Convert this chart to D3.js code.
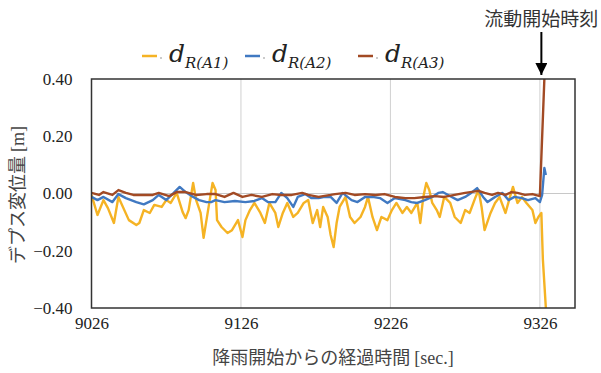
<!DOCTYPE html>
<html>
<head>
<meta charset="utf-8">
<script src="https://cdn.jsdelivr.net/npm/d3@7"></script>
<style>
  body { margin: 0; background: #fff; }
  svg { display: block; }
</style>
</head>
<body>
<div id="chart"></div>
<script>
// time [sec] / depth displacement [m]
const tA1 = [9026, 9030, 9034, 9037, 9041, 9044, 9051, 9056, 9058, 9061, 9065, 9068, 9073, 9076, 9079, 9083, 9087, 9089, 9091, 9094, 9096, 9099, 9101, 9104, 9107, 9109, 9110, 9113, 9117, 9120, 9124, 9127, 9129, 9132, 9135, 9139, 9142, 9145, 9149, 9151, 9154, 9157, 9161, 9164, 9168, 9171, 9174, 9177, 9179, 9181, 9184, 9186, 9188, 9190, 9192, 9196, 9199, 9202, 9206, 9209, 9211, 9214, 9217, 9220, 9224, 9227, 9230, 9234, 9237, 9240, 9244, 9246, 9248, 9250, 9252, 9254, 9257, 9259, 9262, 9266, 9269, 9273, 9276, 9279, 9283, 9285, 9287, 9289, 9293, 9296, 9299, 9303, 9306, 9308, 9311, 9314, 9317, 9321, 9323, 9325, 9327, 9328, 9330];
const vA1 = [-0.005, -0.075, -0.023, -0.051, -0.103, -0.012, -0.093, -0.110, -0.103, -0.058, -0.068, -0.040, -0.047, -0.023, -0.033, 0.002, -0.065, -0.086, -0.058, 0.037, -0.023, -0.068, -0.155, -0.058, 0.037, 0.012, -0.093, -0.117, -0.138, -0.128, -0.093, -0.152, -0.093, -0.058, -0.033, -0.068, -0.103, -0.033, -0.068, -0.117, -0.068, -0.033, -0.082, -0.068, -0.033, -0.023, -0.103, -0.058, -0.117, -0.047, -0.082, -0.145, -0.187, -0.103, -0.047, -0.012, -0.082, -0.103, -0.082, -0.047, -0.012, -0.082, -0.128, -0.082, -0.093, -0.058, -0.033, -0.068, -0.047, -0.068, -0.033, -0.103, -0.012, 0.037, 0.012, -0.033, -0.058, -0.082, -0.012, -0.033, -0.082, -0.103, -0.058, -0.068, -0.012, 0.012, -0.047, -0.128, -0.068, -0.033, -0.012, -0.068, -0.012, 0.023, -0.033, -0.012, -0.033, -0.058, -0.103, -0.082, -0.068, -0.230, -0.400];

const tA2 = [9026, 9030, 9034, 9040, 9044, 9049, 9056, 9061, 9067, 9071, 9076, 9081, 9085, 9089, 9094, 9098, 9103, 9106, 9109, 9115, 9122, 9129, 9135, 9140, 9144, 9149, 9153, 9157, 9161, 9164, 9169, 9173, 9178, 9182, 9186, 9190, 9194, 9200, 9204, 9209, 9214, 9219, 9224, 9229, 9236, 9240, 9244, 9249, 9254, 9258, 9261, 9267, 9271, 9276, 9280, 9284, 9288, 9291, 9296, 9301, 9305, 9309, 9314, 9318, 9323, 9326, 9327.5, 9329, 9330];
const vA2 = [-0.012, -0.023, -0.012, -0.030, -0.002, -0.016, -0.030, -0.038, -0.023, -0.005, -0.023, 0.002, 0.023, 0.005, -0.012, -0.023, -0.030, -0.030, -0.023, -0.030, -0.026, -0.030, -0.026, -0.016, -0.030, -0.030, 0.002, -0.016, -0.047, -0.012, -0.002, -0.016, -0.016, -0.012, -0.012, -0.033, 0.002, -0.023, -0.030, -0.012, -0.012, -0.016, -0.033, -0.016, -0.023, -0.030, -0.033, -0.023, -0.012, 0.002, 0.005, -0.012, -0.023, -0.012, 0.002, 0.019, -0.012, -0.030, -0.012, 0.002, -0.023, -0.012, -0.016, -0.023, -0.016, -0.030, -0.005, 0.089, 0.065];

const tA3 = [9026, 9031, 9034, 9040, 9044, 9049, 9054, 9060, 9067, 9071, 9078, 9083, 9089, 9096, 9103, 9109, 9115, 9121, 9127, 9133, 9140, 9147, 9153, 9160, 9167, 9171, 9178, 9186, 9189, 9196, 9202, 9209, 9216, 9222, 9229, 9236, 9242, 9249, 9256, 9262, 9269, 9276, 9285, 9289, 9294, 9298, 9303, 9307, 9311, 9316, 9321, 9326, 9329];
const vA3 = [0.002, -0.005, 0.005, -0.005, 0.012, 0.002, -0.005, -0.005, -0.005, 0.002, -0.009, 0.005, 0.005, -0.005, -0.002, -0.002, -0.012, 0.002, -0.012, -0.005, -0.012, -0.002, -0.005, -0.005, 0.002, -0.005, -0.012, -0.005, -0.002, 0.002, -0.005, -0.002, -0.005, -0.002, -0.012, -0.016, -0.016, -0.012, -0.009, -0.012, -0.005, 0.002, 0.009, 0.002, -0.005, 0.002, -0.005, 0.005, 0.002, -0.005, -0.002, -0.009, 0.400];

const seriesNames = ["A1", "A2", "A3"];
const seriesColors = ["#f5b324", "#4079c2", "#a24a24"];
const xTicks = [9026, 9126, 9226, 9326];
const yTicks = [-0.4, -0.2, 0.0, 0.2, 0.4];
const onsetTime = 9327;

const SERIF = "'Liberation Serif'";
const CJK = "'Noto Sans CJK JP'";

const width = 601, height = 373;
const margin = {left: 91.5, right: 26, top: 79, bottom: 65};

const svg = d3.select("#chart").append("svg")
    .attr("width", width)
    .attr("height", height);

const x = d3.scaleLinear()
    .domain([9026, 9349.5])
    .range([margin.left, width - margin.right]);

const y = d3.scaleLinear()
    .domain([-0.4, 0.4])
    .range([height - margin.bottom, margin.top]);

svg.append("defs").append("clipPath")
    .attr("id", "plotClip")
    .append("rect")
    .attr("x", x.range()[0])
    .attr("y", y.range()[1])
    .attr("width", x.range()[1] - x.range()[0])
    .attr("height", y.range()[0] - y.range()[1]);

// grid lines
svg.append("g")
    .selectAll("line")
    .data(xTicks.slice(1))
    .join("line")
    .attr("x1", d => x(d)).attr("x2", d => x(d))
    .attr("y1", y(0.4)).attr("y2", y(-0.4))
    .attr("stroke", "#d0d0d0")
    .attr("stroke-width", 1);

svg.append("line")
    .attr("x1", x.range()[0]).attr("x2", x.range()[1])
    .attr("y1", y(0)).attr("y2", y(0))
    .attr("stroke", "#c8c8c8")
    .attr("stroke-width", 1);

// axes (labels only, Excel style)
const xAxis = svg.append("g")
    .attr("transform", "translate(0," + (height - margin.bottom) + ")")
    .call(d3.axisBottom(x).tickValues(xTicks).tickFormat(d3.format("d")).tickSize(0).tickPadding(9));
xAxis.select(".domain").remove();
xAxis.selectAll("text")
    .style("font-family", SERIF)
    .style("font-size", "17px")
    .attr("fill", "#222");

const yAxis = svg.append("g")
    .attr("transform", "translate(" + margin.left + ",0)")
    .call(d3.axisLeft(y).tickValues(yTicks).tickFormat(d3.format(".2f")).tickSize(0).tickPadding(19));
yAxis.select(".domain").remove();
yAxis.selectAll("text")
    .style("font-family", SERIF)
    .style("font-size", "17px")
    .attr("fill", "#222");

// series
const line = d3.line()
    .x(d => x(d[0]))
    .y(d => y(d[1]));

const allSeries = [d3.zip(tA1, vA1), d3.zip(tA2, vA2), d3.zip(tA3, vA3)];

svg.append("g")
    .attr("clip-path", "url(#plotClip)")
    .selectAll("path")
    .data(allSeries)
    .join("path")
    .attr("d", line)
    .attr("fill", "none")
    .attr("stroke", (d, i) => seriesColors[i])
    .attr("stroke-width", 2.4)
    .attr("stroke-linejoin", "round");

// plot frame
svg.append("rect")
    .attr("x", x.range()[0])
    .attr("y", y.range()[1])
    .attr("width", x.range()[1] - x.range()[0])
    .attr("height", y.range()[0] - y.range()[1])
    .attr("fill", "none")
    .attr("stroke", "#333")
    .attr("stroke-width", 1.5);

// axis titles
svg.append("text")
    .attr("x", 333)
    .attr("y", 364)
    .attr("text-anchor", "middle")
    .style("font-family", CJK)
    .style("font-size", "18px")
    .attr("fill", "#444")
    .text("降雨開始からの経過時間 ")
    .append("tspan")
    .style("font-family", SERIF)
    .text("[sec.]");

svg.append("text")
    .attr("transform", "translate(24,195) rotate(-90)")
    .attr("text-anchor", "middle")
    .style("font-family", CJK)
    .style("font-size", "18px")
    .attr("fill", "#444")
    .text("デプス変位量 ")
    .append("tspan")
    .style("font-family", SERIF)
    .text("[m]");

// legend
const legendX = [142, 245, 358];
const legend = svg.append("g");
seriesNames.forEach((name, i) => {
    const g = legend.append("g").attr("transform", "translate(" + legendX[i] + ",56)");
    g.append("line")
        .attr("x1", 0).attr("x2", 15)
        .attr("y1", 0).attr("y2", 0)
        .attr("stroke", seriesColors[i])
        .attr("stroke-width", 2.5);
    g.append("circle")
        .attr("cx", 19).attr("cy", 2)
        .attr("r", 0.8)
        .attr("fill", "#888");
    const t = g.append("text")
        .attr("x", 27)
        .attr("y", 6)
        .style("font-family", "'DejaVu Serif'")
        .style("font-style", "italic")
        .attr("fill", "#222");
    t.append("tspan").style("font-size", "25px").text("d");
    t.append("tspan").style("font-size", "15px").attr("dy", 6).text("R(" + name + ")");
});

// onset annotation
svg.append("defs").append("marker")
    .attr("id", "arrowHead")
    .attr("viewBox", "0 0 10 10")
    .attr("refX", 10).attr("refY", 5)
    .attr("markerWidth", 6).attr("markerHeight", 6)
    .attr("markerUnits", "strokeWidth")
    .attr("orient", "auto")
    .append("path")
    .attr("d", "M0,0 L10,5 L0,10 z")
    .attr("fill", "#000");

svg.append("line")
    .attr("x1", x(onsetTime)).attr("x2", x(onsetTime))
    .attr("y1", 32).attr("y2", 75)
    .attr("stroke", "#000")
    .attr("stroke-width", 2)
    .attr("marker-end", "url(#arrowHead)");

svg.append("text")
    .attr("x", x(onsetTime))
    .attr("y", 26)
    .attr("text-anchor", "middle")
    .style("font-family", CJK)
    .style("font-size", "19px")
    .attr("fill", "#333")
    .text("流動開始時刻");
</script>
</body>
</html>
